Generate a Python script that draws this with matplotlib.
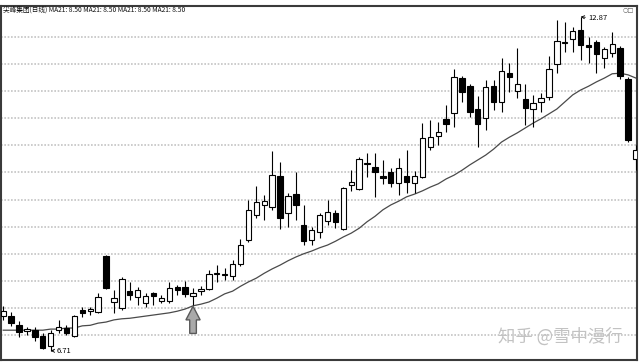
import matplotlib
matplotlib.use("Agg")
import matplotlib.pyplot as plt
from matplotlib.patches import Polygon
import numpy as np

plt.rcParams['font.family'] = ['Noto Sans CJK SC', 'DejaVu Sans']

opens = [7.35, 7.35, 7.18, 7.07, 7.09, 6.98, 6.80, 7.09, 7.13, 6.98,
         7.46, 7.44, 7.42, 8.46, 7.61, 7.50, 7.81, 7.70, 7.59, 7.78,
         7.63, 7.63, 7.89, 7.89, 7.72, 7.81, 7.85, 8.13, 8.11, 8.09,
         8.31, 8.75, 9.21, 9.40, 9.36, 9.93, 9.25, 9.60, 9.03, 8.75,
         8.90, 9.10, 9.25, 8.96, 9.77, 9.69, 10.16, 10.10, 9.93, 10.01,
         9.80, 9.93, 9.80, 9.92, 10.47, 10.67, 10.99, 11.10, 11.74, 11.59,
         11.17, 11.00, 11.59, 11.30, 11.83, 11.50, 11.35, 11.17, 11.30, 11.39,
         12.00, 12.38, 12.46, 12.63, 12.35, 12.41, 12.11, 12.20, 12.30, 11.72,
         10.25]
highs = [7.54, 7.42, 7.26, 7.15, 7.15, 7.04, 7.09, 7.28, 7.18, 7.37,
         7.52, 7.52, 7.78, 8.48, 7.83, 8.07, 7.98, 7.89, 7.78, 7.79,
         7.74, 7.98, 7.92, 8.00, 7.87, 7.90, 8.20, 8.29, 8.24, 8.38,
         8.77, 9.49, 9.75, 9.58, 10.40, 10.19, 9.62, 10.01, 9.40, 8.99,
         9.25, 9.49, 9.31, 9.73, 10.04, 10.28, 10.36, 10.36, 10.23, 10.08,
         10.27, 10.41, 10.03, 10.91, 10.97, 10.93, 11.24, 11.91, 11.78, 11.63,
         11.41, 11.70, 11.70, 12.11, 12.02, 12.30, 11.63, 11.43, 11.47, 12.15,
         12.81, 12.78, 12.68, 12.87, 12.50, 12.44, 12.31, 12.59, 12.33, 11.76,
         10.51]
lows = [7.28, 7.17, 6.96, 7.00, 6.89, 6.74, 6.71, 7.04, 7.00, 6.96,
        7.33, 7.37, 7.41, 7.85, 7.41, 7.46, 7.65, 7.55, 7.52, 7.55,
        7.59, 7.59, 7.74, 7.70, 7.55, 7.74, 7.83, 7.98, 8.02, 8.02,
        8.27, 8.72, 9.16, 9.12, 9.31, 8.96, 8.99, 9.12, 8.66, 8.66,
        8.79, 9.03, 8.97, 8.94, 9.66, 9.68, 9.92, 9.55, 9.79, 9.73,
        9.58, 9.62, 9.62, 9.90, 10.41, 10.51, 10.75, 10.84, 11.30, 11.02,
        10.47, 10.78, 11.15, 11.11, 11.48, 11.37, 10.87, 10.84, 11.11, 11.34,
        11.83, 12.22, 12.22, 12.07, 12.02, 11.83, 11.93, 12.13, 11.72, 10.56,
        10.04]
closes = [7.44, 7.22, 7.06, 7.11, 6.96, 6.76, 7.04, 7.15, 7.04, 7.35,
          7.41, 7.48, 7.70, 7.87, 7.68, 8.03, 7.74, 7.83, 7.72, 7.72,
          7.68, 7.87, 7.83, 7.76, 7.78, 7.85, 8.13, 8.14, 8.13, 8.31,
          8.66, 9.31, 9.45, 9.47, 9.95, 9.16, 9.57, 9.40, 8.73, 8.94,
          9.21, 9.27, 9.09, 9.71, 9.82, 10.25, 10.17, 10.01, 9.90, 9.80,
          10.08, 9.82, 9.93, 10.63, 10.65, 10.75, 10.89, 11.76, 11.48, 11.11,
          10.89, 11.58, 11.30, 11.87, 11.76, 11.63, 11.19, 11.28, 11.37, 11.91,
          12.42, 12.40, 12.61, 12.35, 12.31, 12.18, 12.28, 12.37, 11.78, 10.60,
          10.41]
ma21 = [7.09, 7.09, 7.09, 7.09, 7.09, 7.09, 7.11, 7.11, 7.13, 7.13,
        7.17, 7.18, 7.22, 7.24, 7.28, 7.30, 7.31, 7.33, 7.35, 7.37,
        7.39, 7.41, 7.44, 7.48, 7.54, 7.57, 7.61, 7.68, 7.76, 7.81,
        7.90, 7.98, 8.05, 8.14, 8.22, 8.29, 8.37, 8.44, 8.50, 8.55,
        8.61, 8.66, 8.73, 8.81, 8.88, 8.97, 9.09, 9.19, 9.31, 9.40,
        9.47, 9.55, 9.60, 9.66, 9.73, 9.79, 9.88, 9.95, 10.04, 10.14,
        10.23, 10.32, 10.43, 10.56, 10.65, 10.73, 10.82, 10.91, 10.99, 11.08,
        11.17, 11.30, 11.43, 11.52, 11.59, 11.67, 11.74, 11.82, 11.83, 11.80,
        11.74]

title = "尖峰集团(日线) MA21: 8.50 MA21: 8.50 MA21: 8.50 MA21: 8.50"


def plot_candles():
    o = np.array(opens)
    h = np.array(highs)
    l = np.array(lows)
    c = np.array(closes)
    x = np.arange(len(o))

    fig = plt.figure(figsize=(6.4, 3.63), dpi=100)
    ax = fig.add_axes([1 / 640, 3 / 363, 636 / 640, 354 / 363])

    # dotted price grid every 0.5
    ax.set_yticks(np.arange(7.0, 12.51, 0.5))
    ax.grid(axis='y', linestyle=(0, (1, 1)), color='#c4c4c4', linewidth=1.2, zorder=0)
    ax.tick_params(left=False, bottom=False, labelleft=False, labelbottom=False)
    ax.set_xticks([])

    ax.plot(x, ma21, color='#4a4a4a', linewidth=0.9, zorder=2)

    ax.vlines(x, l, h, color='black', linewidth=0.8, zorder=3)
    up = c >= o
    bottom = np.minimum(o, c)
    height = np.maximum(np.abs(c - o), 0.012)
    ax.bar(x[up], height[up], bottom=bottom[up], width=0.68,
           facecolor='white', edgecolor='black', linewidth=0.8, zorder=4)
    ax.bar(x[~up], height[~up], bottom=bottom[~up], width=0.68,
           facecolor='black', edgecolor='black', linewidth=0.8, zorder=4)

    # min / max labels
    imin = int(np.argmin(l))
    imax = int(np.argmax(h))
    ax.annotate(f"{l[imin]:.2f}", xy=(imin, l[imin]), xytext=(imin + 0.75, l[imin]),
                fontsize=5.5, va='center', ha='left',
                arrowprops=dict(arrowstyle='->', lw=0.6, color='black', shrinkA=0, shrinkB=0))
    ax.annotate(f"{h[imax]:.2f}", xy=(imax, h[imax]), xytext=(imax + 0.95, h[imax] - 0.03),
                fontsize=5.5, va='center', ha='left',
                arrowprops=dict(arrowstyle='->', lw=0.6, color='black', shrinkA=0, shrinkB=0))

    # gray up arrow under the candle that touches the MA line
    k = 24
    tip = l[k] - 0.02
    pts = [(k, tip), (k - 0.9, tip - 0.25), (k - 0.42, tip - 0.25), (k - 0.42, tip - 0.5),
           (k + 0.42, tip - 0.5), (k + 0.42, tip - 0.25), (k + 0.9, tip - 0.25)]
    ax.add_patch(Polygon(pts, closed=True, facecolor='#a9a9a9', edgecolor='#5a5a5a',
                         linewidth=1.0, zorder=5))

    ax.set_xlim(-0.28, 80.13)
    ax.set_ylim(6.54, 13.07)
    for s in ax.spines.values():
        s.set_color('#3a3a3a')
        s.set_linewidth(1.5)

    fig.text(3 / 640, 1 - 10 / 363, title, fontsize=4.8, va='center', ha='left', color='#111111')
    fig.text(634 / 640, 1 - 10 / 363, "○□", fontsize=4.5, va='center', ha='right', color='#555555',
             family='DejaVu Sans')
    fig.text(623 / 640, 1 - 337 / 363, "知乎 @雪中漫行", fontsize=12.5, va='center', ha='right',
             color='#c2c2c2')

    fig.savefig("out.png", dpi=100)


plot_candles()
